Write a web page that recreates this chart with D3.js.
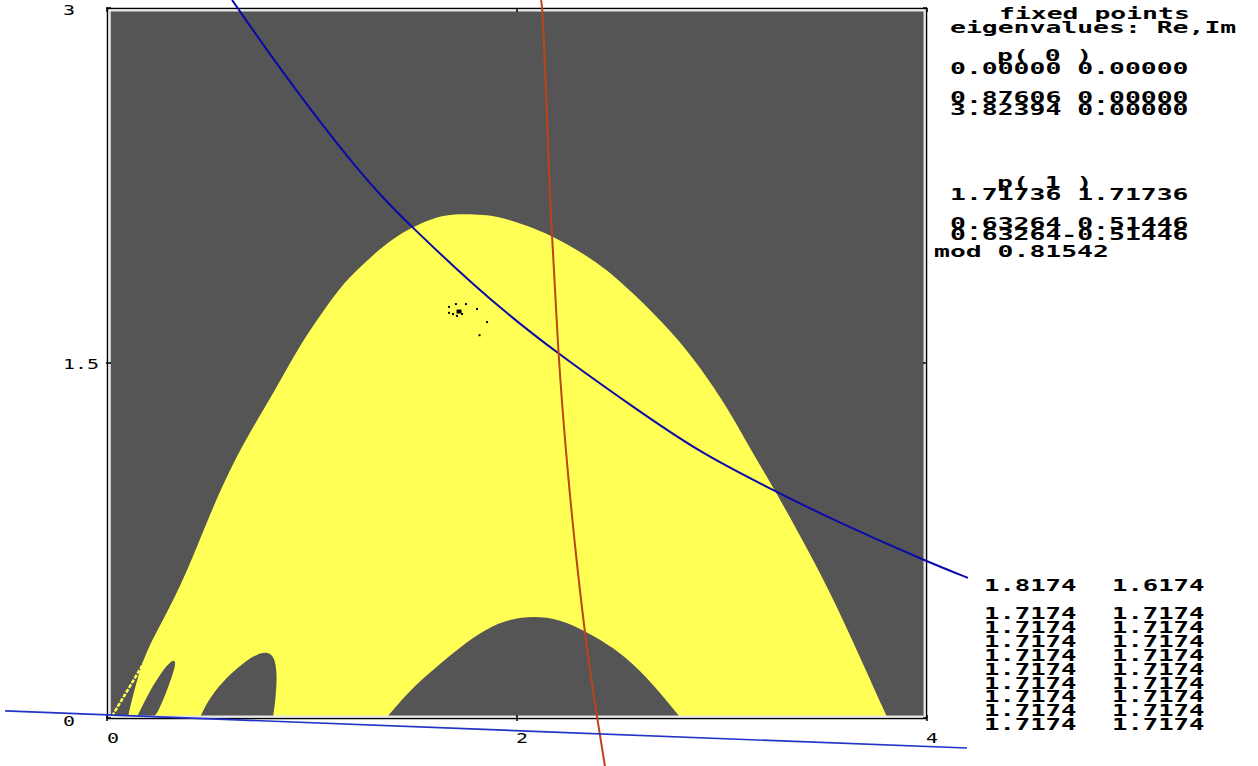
<!DOCTYPE html>
<html>
<head>
<meta charset="utf-8">
<script src="https://cdn.jsdelivr.net/npm/d3@7"></script>
<style>
  body { margin: 0; background: #fff; }
  svg { display: block; }
  text { white-space: pre; }
</style>
</head>
<body>
<div id="vis"></div>
<script>
// axis ticks
var xTicks = [0, 2, 4];
var yTicks = [0, 1.5, 3];
var yTickLabels = ["0", "1.5", "3"];

// basin of the attracting fixed point (yellow), outer boundary from left foot to right foot
var basinOuter = [[0.102,0.004],[0.127,0.097],[0.161,0.203],[0.195,0.287],[0.273,0.414],[0.356,0.554],
  [0.439,0.723],[0.517,0.892],[0.615,1.077],[0.712,1.230],[0.829,1.399],[0.927,1.555],[1.024,1.682],
  [1.137,1.821],[1.234,1.906],[1.380,2.020],[1.493,2.075],[1.576,2.108],[1.688,2.133],[1.854,2.125],
  [1.917,2.117],[2.127,2.062],[2.405,1.923],[2.566,1.796],[2.761,1.627],[2.893,1.483],[3.024,1.314],
  [3.122,1.162],[3.220,1.018],[3.332,0.849],[3.444,0.668],[3.541,0.507],[3.673,0.258],[3.805,0.004]];

// dark holes inside the basin
var holeArch = [[1.366,0.004],[1.478,0.118],[1.590,0.203],[1.722,0.300],[1.854,0.380],[1.966,0.418],
  [2.078,0.431],[2.210,0.418],[2.341,0.363],[2.468,0.300],[2.600,0.203],[2.698,0.106],[2.795,0.004]];
var holeLobe = [[0.454,0.004],[0.502,0.089],[0.585,0.173],[0.663,0.232],[0.732,0.270],[0.780,0.280],
  [0.815,0.262],[0.831,0.190],[0.822,0.076],[0.810,0.004]];
var holeSliver = [[0.146,0.004],[0.210,0.118],[0.273,0.203],[0.322,0.250],[0.340,0.236],[0.307,0.148],
  [0.249,0.021],[0.224,0.004]];
// thin yellow filament left of the basin
var filament = [[0.025,0.008],[0.200,0.262]];

// critical curves
var blueCurve = [[0.610,3.034],[0.820,2.772],[1.039,2.518],[1.210,2.332],[1.346,2.197],[1.493,2.070],
  [1.688,1.910],[1.917,1.732],[2.195,1.542],[2.566,1.314],[2.893,1.120],[3.249,0.963],[3.541,0.837],
  [4.015,0.655],[4.200,0.592]];
var orangeCurve = [[2.117,3.034],[2.127,2.991],[2.161,2.189],[2.171,2.049],[2.200,1.542],[2.244,1.061],
  [2.293,0.638],[2.341,0.287],[2.390,0.004],[2.429,-0.203]];
var bottomLine = [[-0.497,0.030],[4.195,-0.127]];

// orbit converging to p(1)
var orbitPts = [[1.8174,1.6174],[1.854,1.673],[1.805,1.728],[1.751,1.749],[1.702,1.749],[1.668,1.737],
  [1.668,1.712],[1.688,1.707],[1.707,1.699],[1.732,1.707]];
var fixedPt = [1.71736, 1.71736];

// text panels
var panelLines = [
  ["fixed points", 999, 19],
  ["eigenvalues: Re,Im", 950, 33],
  ["p( 0 )", 997, 61],
  ["0.00000 0.00000", 950, 74],
  ["0.87606 0.00000", 950, 103],
  ["3.82394 0.00000", 950, 115],
  ["p( 1 )", 997, 188],
  ["1.71736 1.71736", 950, 200],
  ["0.63264 0.51446", 950, 229],
  ["0.63264-0.51446", 950, 240],
  ["mod 0.81542", 934, 257]
];
var orbitStart = ["1.8174", "1.6174"];
var orbitRows = [["1.7174","1.7174"],["1.7174","1.7174"],["1.7174","1.7174"],["1.7174","1.7174"],
  ["1.7174","1.7174"],["1.7174","1.7174"],["1.7174","1.7174"],["1.7174","1.7174"],["1.7174","1.7174"]];

var W = 1258, H = 766;
var x = d3.scaleLinear().domain([0, 4]).range([107, 927]);
var y = d3.scaleLinear().domain([0, 3]).range([718, 8]);

var GRAY = "#555555", YELLOW = "#ffff55";

var svg = d3.select("#vis").append("svg")
    .attr("width", W)
    .attr("height", H);

svg.append("defs").append("clipPath").attr("id", "plotClip")
  .append("rect").attr("x", 110.5).attr("y", 10.5).attr("width", 814).attr("height", 706);

var smooth = d3.line().x(function(d){ return x(d[0]); }).y(function(d){ return y(d[1]); })
    .curve(d3.curveBasis);
var straight = d3.line().x(function(d){ return x(d[0]); }).y(function(d){ return y(d[1]); });

// region standing on the x axis: smooth top, closed below the axis
function region(pts) {
  var a = pts[0], b = pts[pts.length - 1];
  return smooth(pts) + "L" + x(b[0]) + "," + y(-0.05) + "L" + x(a[0]) + "," + y(-0.05) + "Z";
}

var plot = svg.append("g").attr("clip-path", "url(#plotClip)");
plot.append("rect").attr("x", 107).attr("y", 8).attr("width", 820).attr("height", 711).attr("fill", GRAY);
plot.append("path").attr("d", region(basinOuter)).attr("fill", YELLOW);
[holeArch, holeLobe, holeSliver].forEach(function(h) {
  plot.append("path").attr("d", region(h)).attr("fill", GRAY);
});
plot.append("path").attr("d", straight(filament))
  .attr("stroke", YELLOW).attr("stroke-width", 2.5).attr("stroke-dasharray", "4,1.5").attr("fill", "none");

// frame
svg.append("rect").attr("x", 107.5).attr("y", 8.5).attr("width", 819).attr("height", 710)
  .attr("fill", "none").attr("stroke", "#000").attr("stroke-width", 1.5);
svg.append("rect").attr("x", 109.5).attr("y", 10.5).attr("width", 815).attr("height", 706)
  .attr("fill", "none").attr("stroke", "#e6e6e6").attr("stroke-width", 2);

// inward ticks
var tickG = svg.append("g").attr("stroke", "#000").attr("stroke-width", 1.5);
xTicks.forEach(function(t) {
  tickG.append("line").attr("x1", x(t)).attr("x2", x(t)).attr("y1", 8).attr("y2", 12);
  tickG.append("line").attr("x1", x(t)).attr("x2", x(t)).attr("y1", 715).attr("y2", 721);
});
yTicks.forEach(function(t) {
  tickG.append("line").attr("x1", 106).attr("x2", 111).attr("y1", y(t)).attr("y2", y(t));
  tickG.append("line").attr("x1", 923).attr("x2", 927).attr("y1", y(t)).attr("y2", y(t));
});

// curves (drawn over the frame, not clipped)
svg.append("path").attr("d", smooth(blueCurve)).attr("fill", "none")
  .attr("stroke", "#0a0aa8").attr("stroke-width", 2);
svg.append("path").attr("d", smooth(orangeCurve)).attr("fill", "none")
  .attr("stroke", "#bb4514").attr("stroke-width", 2);
svg.append("path").attr("d", straight(bottomLine)).attr("fill", "none")
  .attr("stroke", "#2233c8").attr("stroke-width", 1.6);

// orbit dots
svg.selectAll(".orb").data(orbitPts).enter().append("rect").attr("class", "orb")
  .attr("x", function(d){ return x(d[0]) - 1; })
  .attr("y", function(d){ return y(d[1]) - 1; })
  .attr("width", 2).attr("height", 2).attr("fill", "#000");
svg.append("rect").attr("x", x(fixedPt[0]) - 2.5).attr("y", y(fixedPt[1]) - 2)
  .attr("width", 5).attr("height", 4).attr("fill", "#000");

// text helper: stretched monospace to mimic the wide bitmap font
function txt(s, px, py, charW, size, bold) {
  return svg.append("text").attr("x", px).attr("y", py)
    .attr("textLength", s.length * charW).attr("lengthAdjust", "spacingAndGlyphs")
    .attr("font-family", "'DejaVu Sans Mono', monospace")
    .attr("font-size", size).attr("font-weight", bold ? "bold" : "normal")
    .attr("fill", "#000").text(s);
}

// axis labels
yTicks.forEach(function(t, i) {
  var py = t === 3 ? 15 : (t === 0 ? 726 : y(t) + 6);
  txt(yTickLabels[i], 63, py, 12, 14, false);
});
xTicks.forEach(function(t) {
  txt(String(t), x(t) - 1 + (t === 0 ? 1 : 0), 743, 12, 14, false);
});

// fixed point panel
panelLines.forEach(function(l) { txt(l[0], l[1], l[2], 15.9, 15, true); });

// orbit panel
txt(orbitStart[0], 984, 591, 15.4, 16, true);
txt(orbitStart[1], 1112, 591, 15.4, 16, true);
orbitRows.forEach(function(r, i) {
  txt(r[0], 984, 619 + i * 13.9, 15.4, 16, true);
  txt(r[1], 1112, 619 + i * 13.9, 15.4, 16, true);
});
</script>
</body>
</html>
